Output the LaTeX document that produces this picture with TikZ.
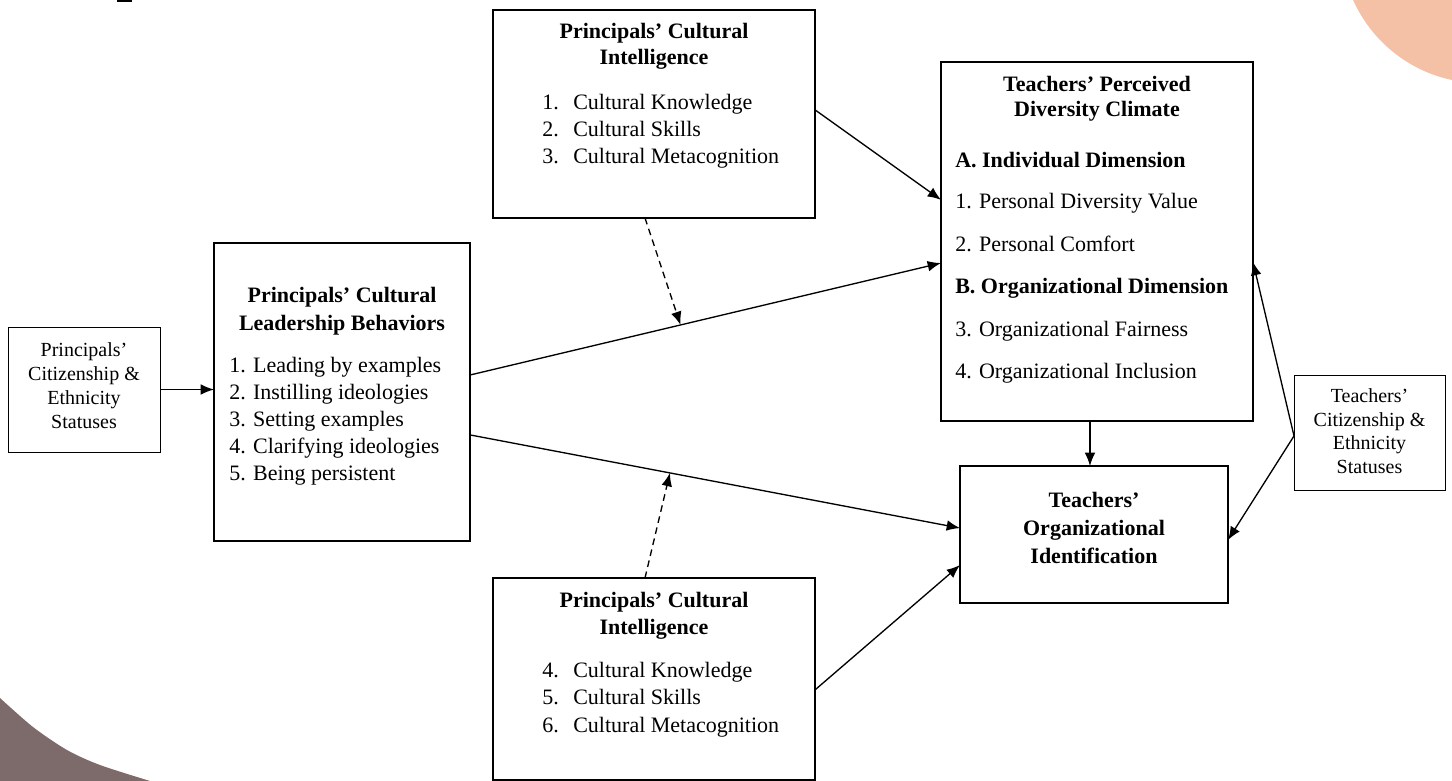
\documentclass[tikz,border=0pt]{standalone}
\usepackage{fontspec}
\setmainfont{Liberation Serif}
\usetikzlibrary{arrows.meta,calc}
\definecolor{peach}{RGB}{244,192,166}
\definecolor{mauve}{RGB}{125,106,106}
\begin{document}
\begin{tikzpicture}[x=0.75pt,y=-0.75pt,
  box/.style={draw, line width=1.2pt, inner sep=0pt, outer sep=0pt},
  smallbox/.style={draw, line width=0.7pt, inner sep=0pt, outer sep=0pt},
  txt/.style={inner sep=0pt, anchor=base, font=\fontsize{16.5}{19}\selectfont},
  btxt/.style={txt, font=\fontsize{16.5}{19}\selectfont\bfseries},
  ltxt/.style={txt, anchor=base west},
  lbtxt/.style={btxt, anchor=base west},
  stxt/.style={inner sep=0pt, anchor=base, font=\fontsize{15}{18}\selectfont},
  link/.style={line width=1pt, -{Latex[length=10pt,width=8pt]}},
  dlink/.style={link, dashed, dash pattern=on 5pt off 3.5pt}]
\useasboundingbox (0,0) rectangle (1452,781);

% background ornaments
\begin{scope}
  \clip (0,0) rectangle (1452,781);
  \fill[peach] (1481,-57) circle[radius=140];
  \fill[mauve] plot[smooth] coordinates {(0,698) (33,727) (67,750) (100,765) (150,781)}
    -- (0,781) -- cycle;
  \fill[black] (117,0) rectangle (132,2);
\end{scope}

% boxes
\node[smallbox, minimum width=114pt, minimum height=93.75pt] (lbox) at (84,389.5) {};
\node[box, minimum width=192pt, minimum height=223.5pt] (lead) at (342,392) {};
\node[box, minimum width=241.5pt, minimum height=156pt] (cqa) at (654,114) {};
\node[box, minimum width=241.5pt, minimum height=151.5pt] (cqb) at (654,679) {};
\node[box, minimum width=234pt, minimum height=269.25pt] (tpdc) at (1097,241.5) {};
\node[box, minimum width=201pt, minimum height=102.75pt] (toi) at (1094,534.5) {};
\node[smallbox, minimum width=113.25pt, minimum height=86.25pt] (rbox) at (1369.5,432.5) {};

% left status box text
\node[stxt] (lbox-1) at (84,356) {Principals’};
\node[stxt] (lbox-2) at (84,380) {Citizenship \&};
\node[stxt] (lbox-3) at (84,404) {Ethnicity};
\node[stxt] (lbox-4) at (84,428) {Statuses};

% leadership behaviours
\node[btxt] (lead-h1) at (342,302) {Principals’ Cultural};
\node[btxt] (lead-h2) at (342,330) {Leadership Behaviors};
\node[ltxt] (lead-1) at (229,372) {1. Leading by examples};
\node[ltxt] (lead-2) at (229,399) {2. Instilling ideologies};
\node[ltxt] (lead-3) at (229,426) {3. Setting examples};
\node[ltxt] (lead-4) at (229,453) {4. Clarifying ideologies};
\node[ltxt] (lead-5) at (229,480) {5. Being persistent};

% cultural intelligence (upper)
\node[btxt] (cqa-h1) at (654,39) {Principals’ Cultural};
\node[btxt] (cqa-h2) at (654,65) {Intelligence};
\node[ltxt] (cqa-1) at (542,110) {\hbox to 23.25pt{1.\hfil}Cultural Knowledge};
\node[ltxt] (cqa-2) at (542,137) {\hbox to 23.25pt{2.\hfil}Cultural Skills};
\node[ltxt] (cqa-3) at (542,164) {\hbox to 23.25pt{3.\hfil}Cultural Metacognition};

% cultural intelligence (lower)
\node[btxt] (cqb-h1) at (654,607) {Principals’ Cultural};
\node[btxt] (cqb-h2) at (654,634) {Intelligence};
\node[ltxt] (cqb-1) at (542,677) {\hbox to 23.25pt{4.\hfil}Cultural Knowledge};
\node[ltxt] (cqb-2) at (542,704) {\hbox to 23.25pt{5.\hfil}Cultural Skills};
\node[ltxt] (cqb-3) at (542,732) {\hbox to 23.25pt{6.\hfil}Cultural Metacognition};

% diversity climate
\node[btxt] (tpdc-h1) at (1097,92) {Teachers’ Perceived};
\node[btxt] (tpdc-h2) at (1097,117) {Diversity Climate};
\node[lbtxt] (tpdc-a) at (955,167) {A. Individual Dimension};
\node[ltxt] (tpdc-1) at (955,208) {1. Personal Diversity Value};
\node[ltxt] (tpdc-2) at (955,251) {2. Personal Comfort};
\node[lbtxt] (tpdc-b) at (955,293) {B. Organizational Dimension};
\node[ltxt] (tpdc-3) at (955,336) {3. Organizational Fairness};
\node[ltxt] (tpdc-4) at (955,378) {4. Organizational Inclusion};

% organizational identification
\node[btxt] (toi-1) at (1094,507) {Teachers’};
\node[btxt] (toi-2) at (1094,535) {Organizational};
\node[btxt] (toi-3) at (1094,563) {Identification};

% right status box text
\node[stxt] (rbox-1) at (1369.5,402) {Teachers’};
\node[stxt] (rbox-2) at (1369.5,426) {Citizenship \&};
\node[stxt] (rbox-3) at (1369.5,449) {Ethnicity};
\node[stxt] (rbox-4) at (1369.5,473) {Statuses};

% connection points on the box borders
\coordinate (leadA) at ($(lead.north east)!0.443!(lead.south east)$);
\coordinate (leadB) at ($(lead.north east)!0.644!(lead.south east)$);
\coordinate (tpdcA) at ($(tpdc.north west)!0.384!(tpdc.south west)$);
\coordinate (tpdcB) at ($(tpdc.north west)!0.56!(tpdc.south west)$);
\coordinate (tpdcR) at ($(tpdc.north east)!0.557!(tpdc.south east)$);
\coordinate (toiA) at ($(toi.north west)!0.453!(toi.south west)$);
\coordinate (toiB) at ($(toi.north west)!0.723!(toi.south west)$);
\coordinate (toiR) at ($(toi.north east)!0.54!(toi.south east)$);
\coordinate (toiT) at ($(toi.north west)!0.485!(toi.north east)$);
\coordinate (cqaE) at ($(cqa.north east)!0.48!(cqa.south east)$);
\coordinate (cqaS) at ($(cqa.south west)!0.472!(cqa.south east)$);
\coordinate (cqbE) at ($(cqb.north east)!0.554!(cqb.south east)$);
\coordinate (cqbN) at ($(cqb.north west)!0.472!(cqb.north east)$);
\coordinate (rboxW) at ($(rbox.north west)!0.53!(rbox.south west)$);
\coordinate (modA) at ($(leadA)!0.447!(tpdcB)$);
\coordinate (modB) at ($(leadB)!0.408!(toiA)$);

% connectors
\draw[link] (lbox.east) -- (lbox.east -| lead.west);
\draw[link] (cqaE) -- (tpdcA);
\draw[link] (leadA) -- (tpdcB);
\draw[link] (leadB) -- (toiA);
\draw[link] (cqbE) -- (toiB);
\draw[link] (toiT |- tpdc.south) -- (toiT);
\draw[link] (rboxW) -- (tpdcR);
\draw[link] (rboxW) -- (toiR);
\draw[dlink] (cqaS) -- (modA);
\draw[dlink] (cqbN) -- (modB);
\end{tikzpicture}
\end{document}
